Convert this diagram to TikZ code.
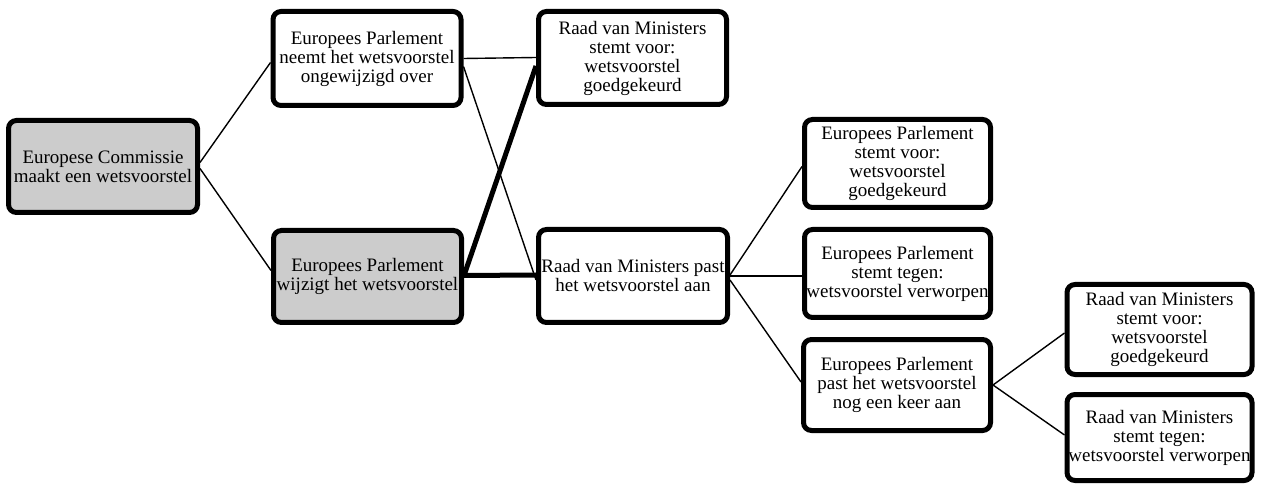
\documentclass[tikz,border=0pt]{standalone}
\usepackage{fontspec}
\setmainfont{Liberation Serif}
\newfontfamily\tnr{Liberation Serif}
\begin{document}
\begin{tikzpicture}[x=1pt,y=-1pt,
  box/.style={draw=black,line width=5pt,rounded corners=8pt,inner sep=0pt,align=center,
    font=\tnr\fontsize{19}{19}\selectfont,fill=white},
  gbox/.style={box,fill=gray!40},
  thin/.style={line width=1.4pt},
  thick/.style={line width=5pt}]
\useasboundingbox (0,0) rectangle (1261,486);
\node[gbox,minimum width=189pt,minimum height=92pt] (A) at (103,166.5) {Europese Commissie\\maakt een wetsvoorstel};
\node[box,minimum width=188pt,minimum height=94pt] (B) at (367,58.5) {Europees Parlement\\neemt het wetsvoorstel\\ongewijzigd over};
\node[gbox,minimum width=188pt,minimum height=92pt] (C) at (367.5,276.5) {Europees Parlement\\wijzigt het wetsvoorstel};
\node[box,minimum width=188pt,minimum height=93pt] (D) at (632.5,58) {Raad van Ministers\\stemt voor:\\wetsvoorstel\\goedgekeurd};
\node[box,minimum width=189pt,minimum height=93pt] (E) at (633,276) {Raad van Ministers past\\het wetsvoorstel aan};
\node[box,minimum width=186pt,minimum height=88pt] (F) at (897.5,163.5) {Europees Parlement\\stemt voor:\\wetsvoorstel\\goedgekeurd};
\node[box,minimum width=186pt,minimum height=88pt] (G) at (897.5,273.5) {Europees Parlement\\stemt tegen:\\wetsvoorstel verworpen};
\node[box,minimum width=187pt,minimum height=91pt] (H) at (897,385) {Europees Parlement\\past het wetsvoorstel\\nog een keer aan};
\node[box,minimum width=185pt,minimum height=90pt] (I) at (1159.5,329.5) {Raad van Ministers\\stemt voor:\\wetsvoorstel\\goedgekeurd};
\node[box,minimum width=185pt,minimum height=86pt] (J) at (1159.5,437.5) {Raad van Ministers\\stemt tegen:\\wetsvoorstel verworpen};
% connectors
\draw[thin] ([yshift=4pt]A.east) -- ([yshift=-4pt]B.west);
\draw[thin] ([yshift=-2pt]A.east) -- ([yshift=6pt]C.west);
\draw[thin] (B.east) -- ([yshift=0.5pt]D.west);
\draw[thin] ([yshift=-8pt]B.east) -- ([yshift=-4pt]E.west);
\draw[thick] ([yshift=1pt]C.east) -- ([yshift=-8pt]D.west);
\draw[thick] ([yshift=1pt]C.east) -- ([yshift=1pt]E.west);
\draw[thin] ([yshift=1pt]E.east) -- ([yshift=-3pt]F.west);
\draw[thin] (E.east) -- ([yshift=-2.5pt]G.west);
\draw[thin] ([yshift=-4pt]E.east) -- ([yshift=3pt]H.west);
\draw[thin] (H.east) -- ([yshift=-3.5pt]I.west);
\draw[thin] (H.east) -- ([yshift=2.5pt]J.west);
\end{tikzpicture}
\end{document}
